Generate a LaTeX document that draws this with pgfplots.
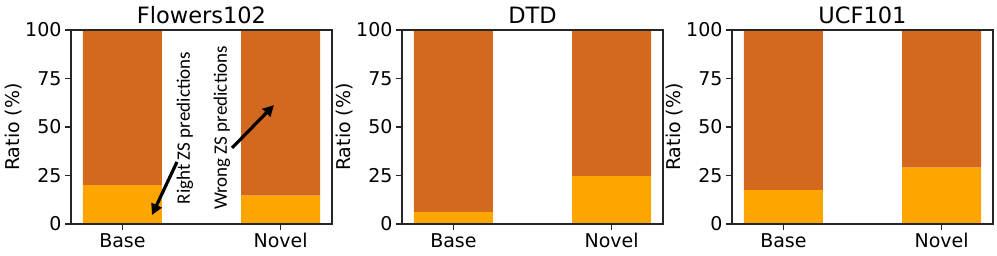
\documentclass[border=0pt]{standalone}
\usepackage{fontspec}
\setmainfont{DejaVu Sans}
\newfontfamily\carlito{Carlito}
\usepackage{pgfplots}
\pgfplotsset{compat=1.18}
\usetikzlibrary{arrows.meta}
\definecolor{cbase}{HTML}{FFA500}
\definecolor{ctop}{HTML}{D2691E}
\pgfplotsset{panel/.style={
  scale only axis, width=261pt, height=194pt,
  xmin=-0.325, xmax=1.325, ymin=0, ymax=100,
  ybar stacked, bar width=0.5,
  xtick={0,1}, xticklabels={Base,Novel},
  ytick={0,25,50,75,100},
  xtick pos=bottom, ytick pos=left,
  tick align=outside, major tick length=6pt,
  tick style={black!85, line width=1.1pt},
  axis line style={black!85, line width=1.1pt},
  axis on top,
  ticklabel style={font=\fontsize{19}{22}\selectfont},
  /pgf/number format/assume math mode=true,
  ylabel={Ratio (\%)},
  ylabel style={font=\fontsize{19}{22}\selectfont, at={(axis description cs:0,0.5)}, anchor=center, yshift=57pt},
  title style={font=\fontsize{22.5}{27}\selectfont, at={(0.5,1)}, anchor=base, yshift=0pt},
  anchor=south west,
}}
\begin{document}
\begin{tikzpicture}
\path[use as bounding box] (0,0) rectangle (997pt,256pt);
\begin{axis}[panel, title={Flowers102}, at={(71pt,32pt)}]
\addplot[fill=cbase, draw=none] coordinates {(0,20) (1,14.6)};
\addplot[fill=ctop, draw=none] coordinates {(0,80) (1,85.4)};
\coordinate (r1) at (axis cs:0.345,32);
\coordinate (r2) at (axis cs:0.187,4.6);
\coordinate (w1) at (axis cs:0.693,39.2);
\coordinate (w2) at (axis cs:0.958,61.3);
\coordinate (rt) at (axis cs:0.395,49.5);
\coordinate (wt) at (axis cs:0.629,49.5);
\end{axis}
\node[rotate=90, font=\carlito\fontsize{19}{23}\selectfont] at (rt) {Right ZS predictions};
\node[rotate=90, font=\carlito\fontsize{19}{23}\selectfont] at (wt) {Wrong ZS predictions};
\draw[black, line width=3.2pt, -{Triangle[length=11pt,width=11pt]}] (r1) -- (r2);
\draw[black, line width=3.2pt, -{Triangle[length=11pt,width=11pt]}] (w1) -- (w2);
\begin{axis}[panel, title={DTD}, at={(402pt,32pt)}]
\addplot[fill=cbase, draw=none] coordinates {(0,6.2) (1,24.7)};
\addplot[fill=ctop, draw=none] coordinates {(0,93.8) (1,75.3)};
\end{axis}
\begin{axis}[panel, title={UCF101}, at={(732pt,32pt)}]
\addplot[fill=cbase, draw=none] coordinates {(0,17.5) (1,29)};
\addplot[fill=ctop, draw=none] coordinates {(0,82.5) (1,71)};
\end{axis}
\end{tikzpicture}
\end{document}
